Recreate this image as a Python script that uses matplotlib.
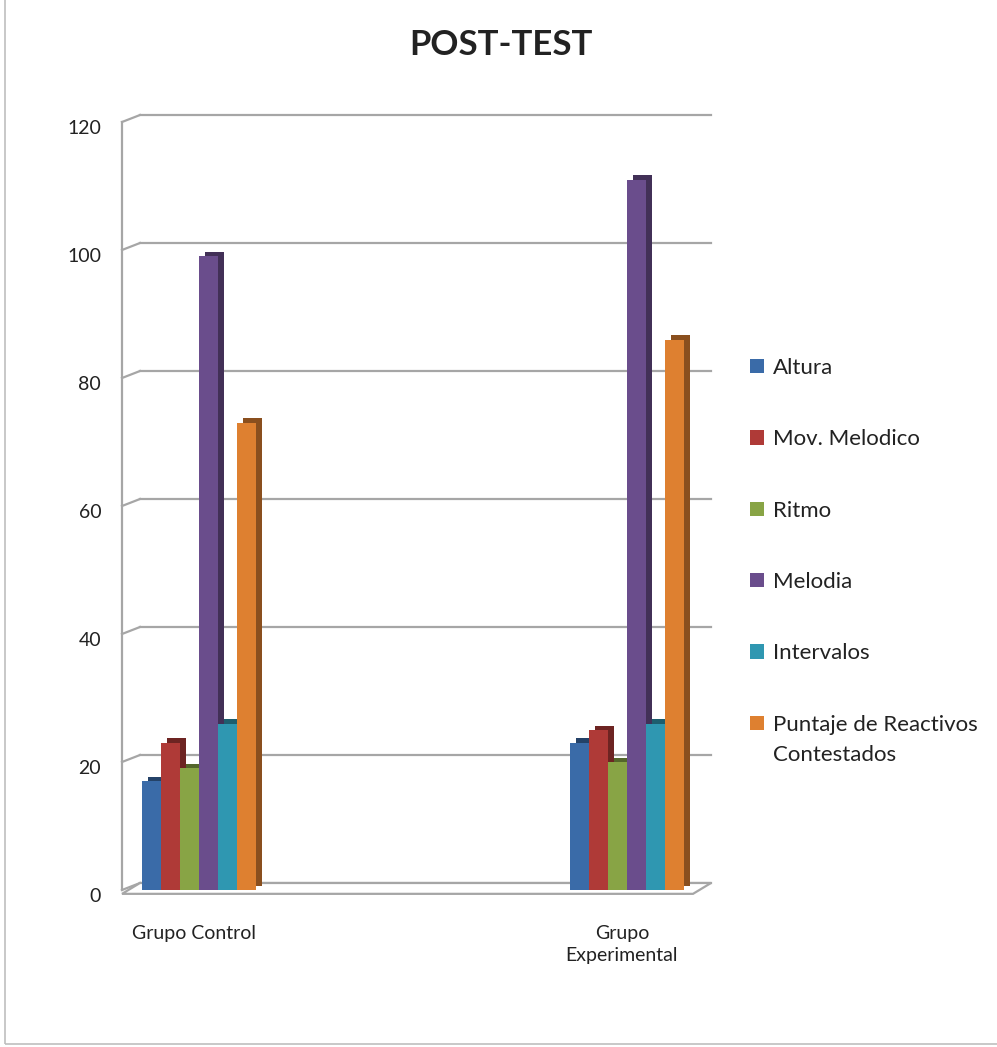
import matplotlib
matplotlib.use("Agg")
import matplotlib.pyplot as plt
import matplotlib.transforms as mtransforms
from matplotlib.patches import Patch, Polygon, Rectangle
import numpy as np

plt.rcParams['font.family'] = ['Lato', 'DejaVu Sans']

groups = ["Grupo Control", "Grupo\nExperimental"]
series = ["Altura", "Mov. Melodico", "Ritmo", "Melodia", "Intervalos",
          "Puntaje de Reactivos"]
last_line = "Contestados"  # second line of the last legend label
altura = [17, 23]
mov_melodico = [23, 25]
ritmo = [19, 20]
melodia = [99, 111]
intervalos = [26, 26]
puntaje = [73, 86]
values = [altura, mov_melodico, ritmo, melodia, intervalos, puntaje]
colors = ["#3A6BA8", "#AF3A37", "#88A445", "#6A4D8C", "#2F97B1", "#DE8030"]
yticks = [0, 20, 40, 60, 80, 100, 120]

W, H = 997, 1047
fig = plt.figure(figsize=(W / 100, H / 100), dpi=100)

# front plane of the fake 3d box, in pixels
left_px, right_px, bot_px, top_px = 122, 693, 890, 122
ax = fig.add_axes([left_px / W, 1 - bot_px / H,
                   (right_px - left_px) / W, (bot_px - top_px) / H])
xmin, xmax = -0.18, 1.154
ax.set_xlim(xmin, xmax)
ax.set_ylim(0, 120)
for s in ax.spines.values():
    s.set_visible(False)

# pixel -> data conversions for the depth offsets
ux = (xmax - xmin) / (right_px - left_px)
uy = 120 / (bot_px - top_px)
depth_x, depth_y = 18 * ux, 7 * uy
grid_c = "#A6A6A6"

# back wall gridlines and the little diagonals from the front axis
for v in yticks:
    ax.plot([xmin + depth_x, xmax + depth_x], [v + depth_y, v + depth_y],
            color=grid_c, lw=1.6, clip_on=False, zorder=1)
    ax.plot([xmin, xmin + depth_x], [v, v + depth_y],
            color=grid_c, lw=1.6, clip_on=False, zorder=1)
ax.plot([xmin, xmin], [0, 120], color=grid_c, lw=1.6, clip_on=False, zorder=1)

# floor
floor = Polygon([[xmin, -0.6], [xmax, -0.6], [xmax + depth_x, depth_y],
                 [xmin + depth_x, depth_y]], closed=True, facecolor="white",
                edgecolor=grid_c, lw=1.6, clip_on=False, zorder=2)
ax.add_patch(floor)

# bars with a darker shifted copy behind for the depth
n = len(series)
bw = 19 * ux
x = np.arange(len(groups))
shift = mtransforms.ScaledTranslation(0.055, 0.045, fig.dpi_scale_trans)
for gi in range(len(groups)):
    for i in range(n):
        pos = x[gi] + (i - (n - 1) / 2) * bw
        c = np.array(matplotlib.colors.to_rgb(colors[i]))
        ax.bar(pos, values[i][gi], width=bw, color=c * 0.62,
               transform=ax.transData + shift, clip_on=False,
               zorder=3 + 2 * i)
        ax.bar(pos, values[i][gi], width=bw, color=c, clip_on=False,
               zorder=4 + 2 * i)

ax.set_xticks(x - 0.012)
ax.set_xticklabels(groups, fontsize=14, color="#222222", va="top")
for lab in ax.get_xticklabels():
    lab.set_linespacing(1.4)
ax.tick_params(axis="x", length=0, pad=25)
ax.set_yticks(yticks)
ax.set_yticklabels([str(v) for v in yticks], fontsize=14, color="#222222")
ax.tick_params(axis="y", length=0, pad=15)
down = mtransforms.ScaledTranslation(0, -0.05, fig.dpi_scale_trans)
for lab in ax.get_yticklabels():
    lab.set_transform(lab.get_transform() + down)

fig.text(0.502, 1 - 45 / H, "POST-TEST", fontsize=25, fontweight="bold",
         ha="center", va="center", color="#222222")

handles = [Patch(facecolor=c, edgecolor="none") for c in colors]
leg = fig.legend(handles, series, loc="upper left",
                 bbox_to_anchor=(750 / W, 1 - 358 / H), frameon=False,
                 fontsize=16, handlelength=0.62, handleheight=0.62,
                 handletextpad=0.4, labelspacing=2.31, borderpad=0,
                 borderaxespad=0)
for t in leg.get_texts():
    t.set_color("#222222")

# second line of the last label, placed right below the first line
fig.canvas.draw()
bb = leg.get_texts()[-1].get_window_extent()
fig.text(bb.x0 / W, (bb.y0 - 30) / H, last_line, fontsize=16,
         color="#222222", ha="left", va="bottom")

# outer chart border
fig.patches.append(Rectangle((5 / W, 3 / H), 1.2, 1.2, transform=fig.transFigure,
                             fill=False, edgecolor="#BFBFBF", lw=1.2))

fig.savefig("out.png", dpi=100)
